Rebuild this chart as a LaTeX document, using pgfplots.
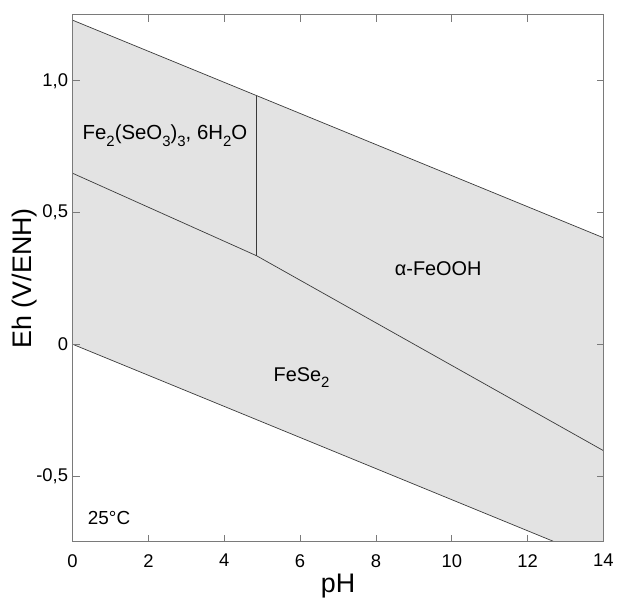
\documentclass[border=0pt]{standalone}
\usepackage{fontspec}
\setmainfont{Liberation Sans}
\usepackage{pgfplots}
\pgfplotsset{compat=1.18}
\definecolor{regfill}{HTML}{E3E3E3}
\definecolor{axgray}{HTML}{7A7A7A}
\definecolor{linegray}{HTML}{3A3A3A}
\newcommand{\sub}[1]{\raisebox{-0.32em}{\fontsize{15}{15}\selectfont #1}}
\begin{document}
\begin{tikzpicture}
\begin{axis}[
  scale only axis,
  width=534pt, height=530pt,
  xmin=0, xmax=14, ymin=-0.75, ymax=1.25,
  xtick={0,2,4,6,8,10,12,14},
  ytick={-0.5,0,0.5,1},
  yticklabels={{-0,5},{0},{0,5},{1,0}},
  /pgf/number format/assume math mode=true,
  tick align=inside,
  major tick length=7pt,
  tick style={axgray, line width=0.8pt},
  axis line style={axgray, line width=1pt},
  ticklabel style={font=\fontsize{18.5}{21}\selectfont, text=black},
  xticklabel style={yshift=-9pt},
  yticklabel style={xshift=-1pt},
  xlabel={pH}, ylabel={Eh (V/ENH)},
  label style={font=\fontsize{27}{30}\selectfont},
  xlabel style={at={(axis description cs:0.5,-0.0962)}, anchor=base},
  ylabel style={at={(axis description cs:-0.0768,0.5)}, anchor=base},
  axis on top,
  clip=true,
]
\addplot[fill=regfill, draw=none] coordinates {(0,1.23) (14,0.404) (14,-0.75) (12.71,-0.75) (0,0)} -- cycle;
\addplot[linegray, line width=0.7pt] coordinates {(0,1.23) (14,0.404)};
\addplot[linegray, line width=0.7pt] coordinates {(0,0) (12.71,-0.75)};
\addplot[linegray, line width=0.7pt] coordinates {(0,0.649) (4.85,0.336) (14,-0.404)};
\addplot[linegray, line width=0.7pt] coordinates {(4.85,0.336) (4.85,0.944)};
\node[font=\fontsize{20.5}{22}\selectfont, anchor=base west, inner sep=0pt] at (axis cs:0.262,0.777) {Fe\sub{2}(SeO\sub{3})\sub{3}, 6H\sub{2}O};
\node[font=\fontsize{20}{22}\selectfont, anchor=base west, inner sep=0pt] at (axis cs:8.495,0.260) {α-FeOOH};
\node[font=\fontsize{20}{22}\selectfont, anchor=base west, inner sep=0pt] at (axis cs:5.296,-0.140) {FeSe\sub{2}};
\node[font=\fontsize{19}{22}\selectfont, anchor=base west, inner sep=0pt] at (axis cs:0.40,-0.684) {25°C};
\end{axis}
\path ([xshift=-73pt,yshift=-56pt]current axis.south west) rectangle ([xshift=10pt,yshift=15pt]current axis.north east);
\end{tikzpicture}
\end{document}
